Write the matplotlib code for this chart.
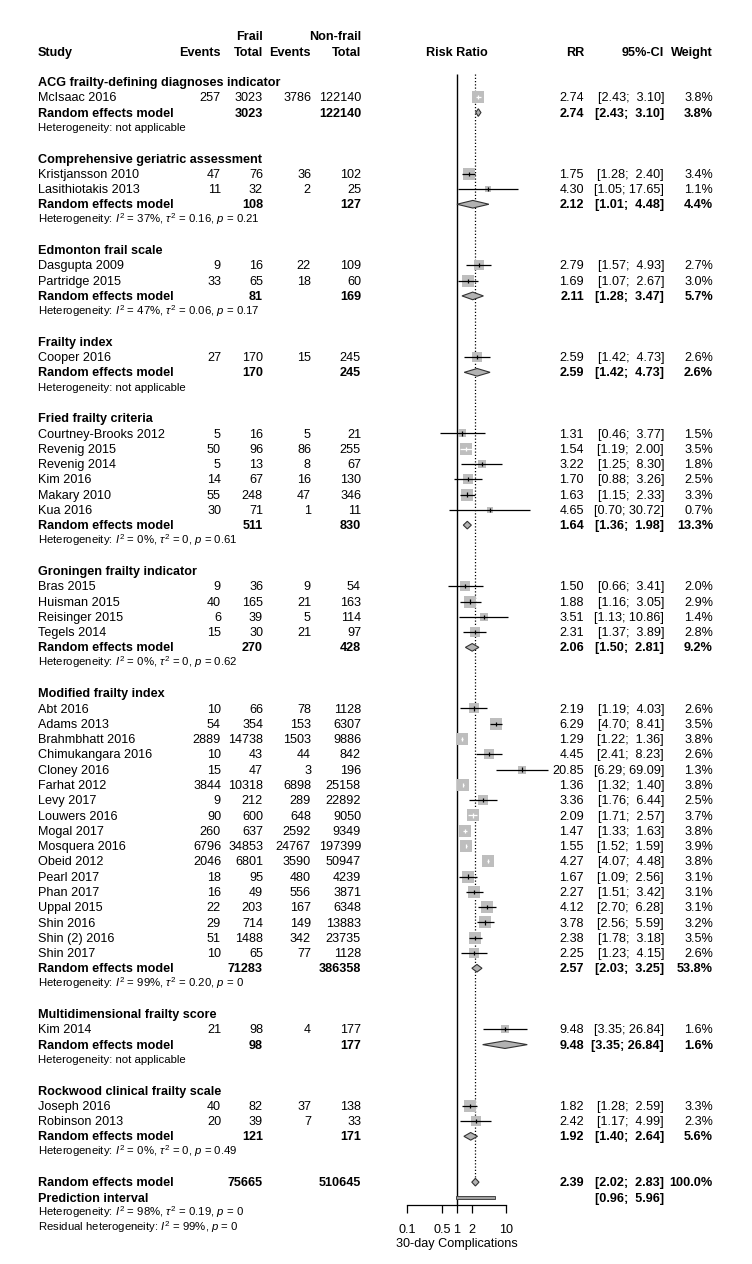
import numpy as np
import matplotlib
matplotlib.use("Agg")
import matplotlib.pyplot as plt
from matplotlib.patches import Polygon, Rectangle

plt.rcParams['font.family'] = ['Liberation Sans', 'DejaVu Sans']
plt.rcParams['mathtext.fontset'] = 'custom'
plt.rcParams['mathtext.rm'] = 'Liberation Sans'
plt.rcParams['mathtext.it'] = 'Liberation Sans:italic'
plt.rcParams['mathtext.bf'] = 'Liberation Sans:bold'

# ---------------- data ----------------
group_names = ["ACG frailty-defining diagnoses indicator",
               "Comprehensive geriatric assessment",
               "Edmonton frail scale",
               "Frailty index",
               "Fried frailty criteria",
               "Groningen frailty indicator",
               "Modified frailty index",
               "Multidimensional frailty score",
               "Rockwood clinical frailty scale"]

study = ["McIsaac 2016",
         "Kristjansson 2010", "Lasithiotakis 2013",
         "Dasgupta 2009", "Partridge 2015",
         "Cooper 2016",
         "Courtney-Brooks 2012", "Revenig 2015", "Revenig 2014", "Kim 2016", "Makary 2010", "Kua 2016",
         "Bras 2015", "Huisman 2015", "Reisinger 2015", "Tegels 2014",
         "Abt 2016", "Adams 2013", "Brahmbhatt 2016", "Chimukangara 2016", "Cloney 2016", "Farhat 2012",
         "Levy 2017", "Louwers 2016", "Mogal 2017", "Mosquera 2016", "Obeid 2012", "Pearl 2017",
         "Phan 2017", "Uppal 2015", "Shin 2016", "Shin (2) 2016", "Shin 2017",
         "Kim 2014",
         "Joseph 2016", "Robinson 2013"]
study_group = [0, 1, 1, 2, 2, 3, 4, 4, 4, 4, 4, 4, 5, 5, 5, 5,
               6, 6, 6, 6, 6, 6, 6, 6, 6, 6, 6, 6, 6, 6, 6, 6, 6, 7, 8, 8]
events_frail = [257, 47, 11, 9, 33, 27, 5, 50, 5, 14, 55, 30, 9, 40, 6, 15,
                10, 54, 2889, 10, 15, 3844, 9, 90, 260, 6796, 2046, 18, 16, 22, 29, 51, 10,
                21, 40, 20]
total_frail = [3023, 76, 32, 16, 65, 170, 16, 96, 13, 67, 248, 71, 36, 165, 39, 30,
               66, 354, 14738, 43, 47, 10318, 212, 600, 637, 34853, 6801, 95, 49, 203, 714, 1488, 65,
               98, 82, 39]
events_nonfrail = [3786, 36, 2, 22, 18, 15, 5, 86, 8, 16, 47, 1, 9, 21, 5, 21,
                   78, 153, 1503, 44, 3, 6898, 289, 648, 2592, 24767, 3590, 480, 556, 167, 149, 342, 77,
                   4, 37, 7]
total_nonfrail = [122140, 102, 25, 109, 60, 245, 21, 255, 67, 130, 346, 11, 54, 163, 114, 97,
                  1128, 6307, 9886, 842, 196, 25158, 22892, 9050, 9349, 197399, 50947, 4239, 3871, 6348,
                  13883, 23735, 1128, 177, 138, 33]
rr = [2.74, 1.75, 4.30, 2.79, 1.69, 2.59, 1.31, 1.54, 3.22, 1.70, 1.63, 4.65, 1.50, 1.88, 3.51, 2.31,
      2.19, 6.29, 1.29, 4.45, 20.85, 1.36, 3.36, 2.09, 1.47, 1.55, 4.27, 1.67, 2.27, 4.12, 3.78, 2.38, 2.25,
      9.48, 1.82, 2.42]
ci_low = [2.43, 1.28, 1.05, 1.57, 1.07, 1.42, 0.46, 1.19, 1.25, 0.88, 1.15, 0.70, 0.66, 1.16, 1.13, 1.37,
          1.19, 4.70, 1.22, 2.41, 6.29, 1.32, 1.76, 1.71, 1.33, 1.52, 4.07, 1.09, 1.51, 2.70, 2.56, 1.78, 1.23,
          3.35, 1.28, 1.17]
ci_high = [3.10, 2.40, 17.65, 4.93, 2.67, 4.73, 3.77, 2.00, 8.30, 3.26, 2.33, 30.72, 3.41, 3.05, 10.86, 3.89,
           4.03, 8.41, 1.36, 8.23, 69.09, 1.40, 6.44, 2.57, 1.63, 1.59, 4.48, 2.56, 3.42, 6.28, 5.59, 3.18, 4.15,
           26.84, 2.59, 4.99]
weight = [3.8, 3.4, 1.1, 2.7, 3.0, 2.6, 1.5, 3.5, 1.8, 2.5, 3.3, 0.7, 2.0, 2.9, 1.4, 2.8,
          2.6, 3.5, 3.8, 2.6, 1.3, 3.8, 2.5, 3.7, 3.8, 3.9, 3.8, 3.1, 3.1, 3.1, 3.2, 3.5, 2.6,
          1.6, 3.3, 2.3]

grp_total_frail = [3023, 108, 81, 170, 511, 270, 71283, 98, 121]
grp_total_nonfrail = [122140, 127, 169, 245, 830, 428, 386358, 177, 171]
grp_rr = [2.74, 2.12, 2.11, 2.59, 1.64, 2.06, 2.57, 9.48, 1.92]
grp_low = [2.43, 1.01, 1.28, 1.42, 1.36, 1.50, 2.03, 3.35, 1.40]
grp_high = [3.10, 4.48, 3.47, 4.73, 1.98, 2.81, 3.25, 26.84, 2.64]
grp_weight = [3.8, 4.4, 5.7, 2.6, 13.3, 9.2, 53.8, 1.6, 5.6]
grp_i2 = [None, "37%", "47%", None, "0%", "0%", "99%", None, "0%"]
grp_tau2 = [None, "0.16", "0.06", None, "0", "0", "0.20", None, "0"]
grp_p = [None, "0.21", "0.17", None, "0.61", "0.62", "0", None, "0.49"]

overall_total_frail = 75665
overall_total_nonfrail = 510645
overall_rr, overall_low, overall_high, overall_weight = 2.39, 2.02, 2.83, 100.0
pred_low, pred_high = 0.96, 5.96
overall_het = ("98%", "0.19", "0")
resid_het = ("99%", "0")

x_ticks = [0.1, 0.5, 1, 2, 10]
x_ticklabels = ["0.1", "0.5", "1", "2", "10"]

# ---------------- layout ----------------
W, H = 752, 1264
ROW0, DY = 82.0, 15.28
FS, FS_HET = 9.1, 8.2
X_STUDY, X_EVF, X_NF, X_EVN, X_NN = 38, 221, 263, 311, 361
X_RR, X_CI, X_W = 584, 664, 713
BASE = 0.27

fig = plt.figure(figsize=(W / 100, H / 100), dpi=100)
ax_t = fig.add_axes([0, 0, 1, 1])
ax_t.set_xlim(0, W)
ax_t.set_ylim((H - ROW0) / DY, -ROW0 / DY)
ax_t.axis('off')

ax_left_px, ax_right_px = 407.3, 506.1
top_row, bot_row = -0.5, 73.5
top_px, bot_px = ROW0 + top_row * DY, ROW0 + bot_row * DY
ax = fig.add_axes([ax_left_px / W, 1 - bot_px / H, (ax_right_px - ax_left_px) / W, (bot_px - top_px) / H])
ax.set_facecolor('none')
ax.set_xscale('log')
ax.set_xlim(0.1, 10)
ax.set_ylim(bot_row, top_row)
for s in ['left', 'right', 'top']:
    ax.spines[s].set_visible(False)
ax.spines['bottom'].set_linewidth(0.9)
ax.set_yticks([])
ax.set_xticks(x_ticks)
ax.set_xticklabels(x_ticklabels)
ax.xaxis.set_minor_locator(matplotlib.ticker.NullLocator())
ax.tick_params(axis='x', length=5.4, width=0.9, pad=8.0, labelsize=FS)

px_per_decade = (ax_right_px - ax_left_px) / 2.0


def txt(x, r, s, ha='left', bold=False, fs=FS, base=BASE):
    ax_t.text(x, r + base, s, ha=ha, va='baseline', fontsize=fs,
              fontweight='bold' if bold else 'normal', color='black')


def ci_str(lo, hi):
    return f"[{lo:.2f}; {hi:5.2f}]"


def het_str(i2, tau2, p):
    if i2 is None:
        return "Heterogeneity: not applicable"
    return rf"Heterogeneity: $I^2$ = {i2}, $\tau^2$ = {tau2}, $p$ = {p}"


def diamond(r, est, lo, hi, h=0.25):
    poly = Polygon([(lo, r), (est, r - h), (hi, r), (est, r + h)], closed=True,
                   facecolor='#b2b2b2', edgecolor='#333333', linewidth=0.8, clip_on=False, zorder=3)
    ax.add_patch(poly)


# header
txt(X_NF, -3, "Frail", ha='right', bold=True)
txt(X_NN, -3, "Non-frail", ha='right', bold=True)
txt(X_STUDY, -2, "Study", bold=True)
txt(X_EVF, -2, "Events", ha='right', bold=True)
txt(X_NF, -2, "Total", ha='right', bold=True)
txt(X_EVN, -2, "Events", ha='right', bold=True)
txt(X_NN, -2, "Total", ha='right', bold=True)
ax.text(1, -2 + BASE, "Risk Ratio", ha='center', va='baseline', fontsize=FS, fontweight='bold', clip_on=False)
txt(X_RR, -2, "RR", ha='right', bold=True)
txt(X_CI, -2, "95%-CI", ha='right', bold=True)
txt(X_W, -2, "Weight", ha='right', bold=True)

# reference lines
ax.vlines(1, top_row, bot_row, color='black', linewidth=1.0, zorder=1)
ax.vlines(overall_rr, top_row, 72 - 0.25, color='black', linewidth=0.9, linestyles=(0, (1, 1.6)), zorder=1)

row = 0
for g, gname in enumerate(group_names):
    txt(X_STUDY, row, gname, bold=True)
    row += 1
    for i in range(len(study)):
        if study_group[i] != g:
            continue
        txt(X_STUDY, row, study[i])
        txt(X_EVF, row, f"{events_frail[i]}", ha='right')
        txt(X_NF, row, f"{total_frail[i]}", ha='right')
        txt(X_EVN, row, f"{events_nonfrail[i]}", ha='right')
        txt(X_NN, row, f"{total_nonfrail[i]}", ha='right')
        txt(X_RR, row, f"{rr[i]:.2f}", ha='right')
        txt(X_CI, row, ci_str(ci_low[i], ci_high[i]), ha='right')
        txt(X_W, row, f"{weight[i]:.1f}%", ha='right')
        side_px = 6.5 * np.sqrt(weight[i])
        ax.scatter([rr[i]], [row], marker='s', s=(side_px * 0.72) ** 2, color='#bebebe',
                   linewidths=0, zorder=2, clip_on=False)
        half_dec = side_px / 2 / px_per_decade
        inside = (np.log10(ci_low[i]) >= np.log10(rr[i]) - half_dec and
                  np.log10(ci_high[i]) <= np.log10(rr[i]) + half_dec)
        col = 'white' if inside else 'black'
        ax.hlines(row, ci_low[i], ci_high[i], color=col, linewidth=0.9, zorder=4, clip_on=False)
        ax.vlines(rr[i], row - 0.14, row + 0.14, color=col, linewidth=0.9, zorder=4, clip_on=False)
        row += 1
    txt(X_STUDY, row, "Random effects model", bold=True)
    txt(X_NF, row, f"{grp_total_frail[g]}", ha='right', bold=True)
    txt(X_NN, row, f"{grp_total_nonfrail[g]}", ha='right', bold=True)
    txt(X_RR, row, f"{grp_rr[g]:.2f}", ha='right', bold=True)
    txt(X_CI, row, ci_str(grp_low[g], grp_high[g]), ha='right', bold=True)
    txt(X_W, row, f"{grp_weight[g]:.1f}%", ha='right', bold=True)
    diamond(row, grp_rr[g], grp_low[g], grp_high[g])
    row += 1
    txt(X_STUDY, row, het_str(grp_i2[g], grp_tau2[g], grp_p[g]), fs=FS_HET, base=0.22)
    row += 2

# overall
txt(X_STUDY, row, "Random effects model", bold=True)
txt(X_NF, row, f"{overall_total_frail}", ha='right', bold=True)
txt(X_NN, row, f"{overall_total_nonfrail}", ha='right', bold=True)
txt(X_RR, row, f"{overall_rr:.2f}", ha='right', bold=True)
txt(X_CI, row, ci_str(overall_low, overall_high), ha='right', bold=True)
txt(X_W, row, f"{overall_weight:.1f}%", ha='right', bold=True)
diamond(row, overall_rr, overall_low, overall_high)
row += 1
txt(X_STUDY, row, "Prediction interval", bold=True)
txt(X_CI, row, ci_str(pred_low, pred_high), ha='right', bold=True)
ax.add_patch(Rectangle((pred_low, row - 0.09), pred_high - pred_low, 0.18,
                       facecolor='#a0a0a0', edgecolor='#444444', linewidth=0.7, zorder=3, clip_on=False))
row += 1
txt(X_STUDY, row, het_str(*overall_het), fs=FS_HET, base=0.22)
row += 1
txt(X_STUDY, row, rf"Residual heterogeneity: $I^2$ = {resid_het[0]}, $p$ = {resid_het[1]}", fs=FS_HET, base=0.22)
row += 1
ax.text(1, row + BASE, "30-day Complications", ha='center', va='baseline', fontsize=FS, clip_on=False)

fig.savefig("out.png", dpi=100)
